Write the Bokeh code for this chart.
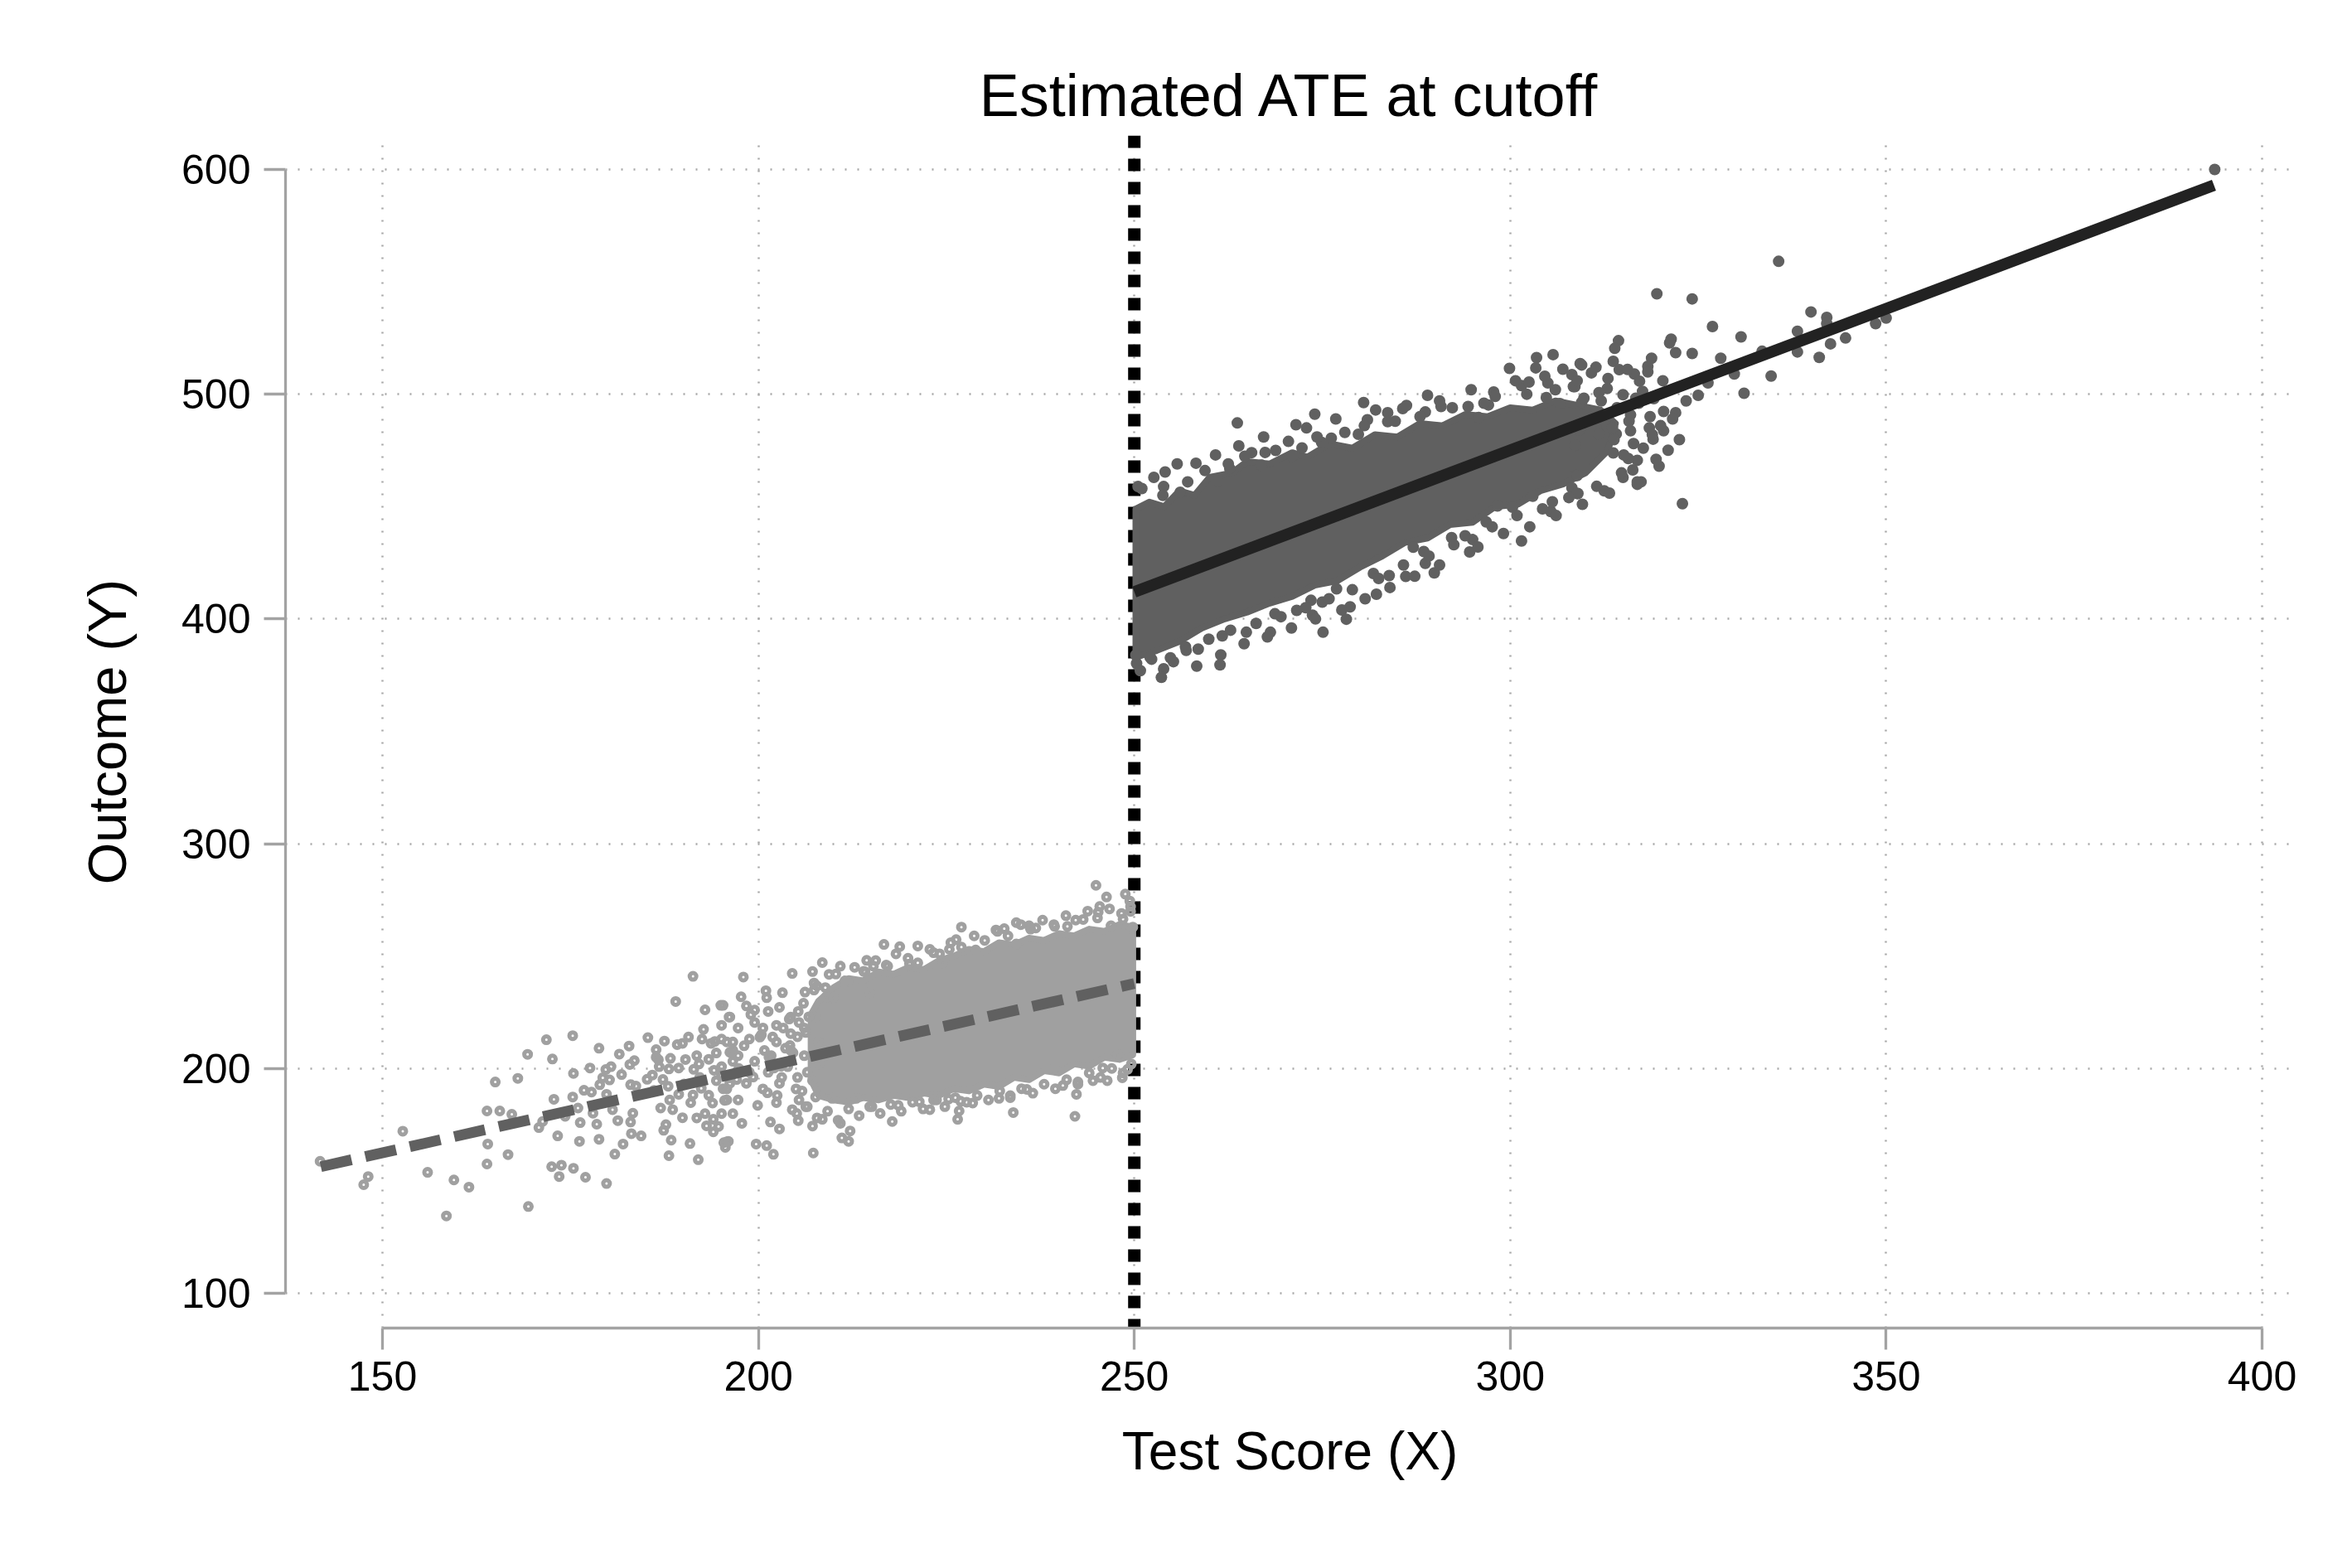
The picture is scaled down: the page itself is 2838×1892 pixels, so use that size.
from bokeh.plotting import figure
from bokeh.models import FixedTicker, Span
from bokeh.embed import file_html
from bokeh.resources import INLINE

TITLE = "Estimated ATE at cutoff"
X_LABEL = "Test Score (X)"
Y_LABEL = "Outcome (Y)"
X_TICKS = [150, 200, 250, 300, 350, 400]
Y_TICKS = [100, 200, 300, 400, 500, 600]
CUTOFF = 250

lower_x = [141.7, 147.5, 148.1, 152.7, 156.0, 158.5, 159.5, 161.5, 163.9, 163.9, 164.0, 165.0, 165.6, 166.7, 167.2,
           168.0, 169.3, 169.4, 170.8, 171.3, 171.8, 172.5, 172.6, 172.8, 173.3, 173.5, 173.8, 174.3, 175.3, 175.3,
           175.4, 175.4, 176.0, 176.2, 176.3, 176.8, 177.0, 177.6, 177.8, 178.0, 178.5, 178.8, 178.8, 178.9, 179.3,
           179.7, 179.8, 179.8, 180.2, 180.4, 180.6, 180.9, 181.3, 181.5, 181.8, 182.0, 182.8, 182.9, 183.0, 183.0,
           183.3, 183.5, 183.7, 184.4, 183.1, 185.2, 185.3, 185.9, 186.4, 186.7, 186.8, 187.0, 187.4, 187.5, 187.7,
           188.1, 188.1, 188.3, 188.4, 188.6, 189.0, 189.2, 189.4, 189.9, 189.9, 190.7, 190.9, 191.0, 191.3, 191.8,
           191.8, 192.0, 192.5, 192.7, 192.9, 192.9, 193.1, 193.4, 193.7, 193.9, 194.0, 194.0, 194.7, 195.0, 195.1,
           195.5, 195.6, 195.8, 196.1, 196.6, 192.1, 194.4, 195.1, 196.2, 191.4, 195.8, 194.4, 196.6,
           198.0, 197.7, 195.3, 198.4, 199.5, 201.0, 201.1, 203.2, 204.5, 201.3, 202.8, 204.3, 205.3, 207.2, 207.8,
           207.4, 208.5, 209.4, 210.9, 209.0, 210.0, 211.9, 214.0, 214.4, 215.3, 214.8, 216.7, 217.2, 218.8, 221.2,
           220.1, 223.3, 224.5, 225.4, 226.3, 227.0, 228.9, 231.6, 232.7, 234.3, 234.3, 236.0, 236.9, 239.4, 241.1,
           243.2, 244.9, 245.2, 245.4, 246.3, 246.9, 248.8, 249.4, 249.5, 248.5, 249.8,
           195.1, 196.6, 195.8, 195.1, 195.4, 196.0, 197.8, 199.7, 201.1, 202.0, 201.6, 202.8, 204.5, 205.3, 206.3,
           207.2, 207.3, 208.5, 209.8, 210.9, 211.1, 212.0, 212.2, 213.0, 215.1, 217.8, 218.6, 221.4, 222.8, 223.7,
           225.3, 226.5, 226.7, 226.9, 228.5, 232.0, 233.5, 233.9, 235.7, 239.4, 240.5, 242.1, 242.3, 242.5, 244.5,
           245.8, 246.4, 247.8, 248.4, 249.1,
           196.2, 197.3, 198.8, 200.6, 202.4, 204.3, 206.1, 207.6, 197.3, 199.5, 201.7, 203.9, 206.1, 208.0, 196.2,
           198.4, 200.6, 202.8, 205.0, 207.2, 197.3, 199.9, 202.4, 205.4, 207.6, 198.8, 201.3, 204.3, 195.1, 195.8,
           206.5, 208.1, 196.6, 199.5, 202.4, 205.4,
           206.2, 207.4, 208.9, 210.3, 211.5, 212.8, 214.2, 215.6, 217.0, 218.3, 219.9, 221.2, 222.8, 224.1, 225.6,
           227.0, 228.7, 230.1, 231.8, 233.2, 234.9, 236.2, 237.8, 239.3, 240.9, 242.2, 243.8, 245.1, 246.7, 248.3,
           249.5,
           205.1, 206.5, 207.8, 209.2, 210.6, 212.0, 213.4, 214.8, 216.2, 217.6, 219.0, 220.5, 221.9, 223.3, 224.8,
           226.2, 227.7, 229.1, 230.6, 232.1, 233.5, 235.0, 236.5, 238.0, 239.5, 241.0, 242.5, 244.0, 245.5, 247.0,
           248.5, 249.6,
           186.1, 187.3, 188.2, 189.4, 190.1, 191.3, 192.2, 193.4, 194.1, 195.3, 196.2, 197.4, 198.1, 199.3, 200.2,
           201.4, 202.1, 203.3, 204.2, 186.4, 188.0, 190.3, 192.4, 194.2, 197.1, 199.0, 201.2, 203.1, 205.2, 206.0,
           200.8, 201.9, 203.0, 204.1, 205.2, 206.3, 202.5, 204.6, 206.7, 200.4, 203.6, 205.8]
lower_y = [158.7, 148.3, 151.9, 172.1, 153.8, 134.4, 150.4, 147.2, 181.1, 157.5, 166.4, 194.0, 181.1, 161.7, 179.6,
           195.6, 206.3, 138.6, 173.7, 176.4, 212.8, 156.3, 204.2, 186.3, 170.0, 151.9, 157.0, 178.7, 214.6, 187.3,
           197.8, 155.6, 182.4, 167.6, 175.9, 190.3, 151.6, 200.2, 189.5, 180.1, 175.2, 209.0, 168.5, 192.8, 195.9,
           199.5, 148.8, 188.5, 194.9, 200.8, 181.7, 161.9, 176.8, 206.4, 197.3, 166.4, 210.0, 201.8, 192.8, 176.2,
           180.1, 203.5, 192.2, 170.0, 171.0, 195.2, 213.7, 197.1, 208.4, 203.9, 200.8, 182.4, 172.5, 212.2, 175.0,
           199.8, 161.2, 204.5, 168.1, 181.7, 229.8, 210.6, 188.5, 178.1, 211.2, 214.0, 166.6, 184.8, 241.0, 205.7,
           178.0, 159.4, 213.1, 217.4, 226.1, 179.9, 174.5, 188.1, 211.2, 184.6, 177.4, 171.8, 174.2, 228.1, 219.2,
           185.8, 164.9, 167.4, 222.9, 179.9, 202.0, 206.9, 197.1, 193.4, 199.6, 211.8, 194.6, 203.2,
           240.7, 231.9, 228.1, 227.8, 226.0, 234.6, 231.5, 233.7, 242.3, 225.4, 227.2, 222.9, 225.4, 243.1, 236.7,
           234.9, 247.1, 241.9, 245.5, 231.7, 231.5, 238.6, 243.2, 248.1, 245.5, 233.7, 255.2, 245.5, 254.2, 254.5,
           246.5, 251.5, 246.9, 253.0, 257.3, 262.9, 252.7, 261.6, 262.2, 264.9, 255.4, 263.5, 262.5, 263.2, 263.2,
           266.3, 281.5, 269.6, 272.1, 276.3, 263.5, 277.6, 274.5, 269.9, 266.5, 262.9,
           213.1, 208.1, 186.0, 179.9, 167.0, 167.6, 175.6, 166.4, 165.7, 161.8, 176.2, 173.1, 181.7, 176.8, 183.0,
           174.4, 162.4, 177.4, 186.7, 175.6, 169.1, 167.6, 172.2, 186.7, 183.0, 176.4, 183.6, 185.2, 181.7, 186.0,
           186.4, 177.4, 181.1, 185.4, 184.6, 186.7, 187.9, 180.4, 190.7, 200.2, 192.4, 178.7, 188.5, 194.0, 194.6,
           200.2, 194.6, 206.1, 195.9, 199.6,
           222.9, 218.0, 213.1, 218.0, 211.8, 215.5, 218.0, 222.9, 205.7, 203.2, 205.7, 200.8, 205.7, 211.8, 195.9,
           193.4, 190.9, 193.4, 190.9, 194.6, 186.0, 183.6, 184.8, 186.0, 187.3, 198.3, 198.3, 208.1, 200.8, 190.9,
           198.3, 202.0, 211.8, 220.5, 219.2, 220.5,
           234.0, 238.0, 236.0, 242.0, 239.0, 245.0, 243.0, 248.0, 246.0, 251.0, 249.0, 247.0, 253.0, 251.0, 256.0,
           254.0, 259.0, 257.0, 261.0, 259.0, 264.0, 262.0, 266.0, 264.0, 268.0, 266.0, 270.0, 267.0, 271.0, 269.0,
           272.0,
           180.0, 183.0, 178.0, 181.0, 177.0, 182.0, 179.0, 183.0, 180.0, 184.0, 181.0, 185.0, 182.0, 186.0, 183.0,
           187.0, 185.0, 188.0, 186.0, 190.0, 187.0, 191.0, 189.0, 193.0, 191.0, 195.0, 193.0, 198.0, 196.0, 200.0,
           198.0, 202.0,
           190.2, 195.1, 186.0, 200.2, 193.1, 188.2, 196.0, 204.1, 199.2, 191.0, 207.2, 200.0, 210.1, 196.2, 214.0,
           205.1, 200.2, 218.0, 210.2, 205.0, 192.1, 204.0, 191.2, 212.0, 195.1, 224.0, 189.2, 196.0, 214.1, 229.0,
           208.0, 214.0, 201.0, 222.0, 196.0, 216.0, 188.0, 207.0, 223.0, 215.0, 209.0, 190.0]

upper_x = [263.7, 274.0, 271.5, 280.5, 289.0, 285.7, 283.7, 288.7, 290.8, 294.4, 297.8, 299.9, 303.5, 305.7, 303.4,
           301.5, 302.5, 307.0, 308.2, 309.3, 305.0, 304.8, 308.4, 306.6, 309.5, 297.1, 295.8, 258.2, 254.1, 253.9,
           250.5, 256.1, 261.1, 262.7, 264.7, 267.4, 266.9, 271.0, 272.3, 274.9, 276.2, 279.8, 281.0, 283.7,
           301.5, 294.6, 295.0, 289.9, 288.7, 288.5, 286.1, 287.1, 283.9, 282.2, 281.8, 278.7, 278.2, 276.9, 275.1,
           275.0, 273.5, 273.7, 271.6, 268.7, 268.1, 264.9, 261.7, 261.4, 258.5, 256.8, 254.8, 253.9, 252.3, 250.3,
           250.2, 298.3, 300.3, 305.4, 305.6, 308.2, 309.0, 308.7, 303.0, 296.8, 292.2,
           393.7, 335.7, 319.5, 324.2, 340.0, 342.1, 342.1, 338.2, 330.7, 326.9, 350.0, 348.6, 344.6, 342.6, 341.1,
           338.2, 333.5, 334.7, 329.8, 328.0, 331.1, 326.3, 325.0, 323.4, 322.0, 322.5, 321.0, 320.4, 319.0, 318.5,
           316.9, 316.3, 316.9, 315.7, 322.9, 312.5, 308.9, 308.9, 313.7, 316.0, 314.4, 313.9, 313.7, 314.5, 309.5,
           310.8, 316.5, 318.3, 318.3, 317.2, 321.4, 321.2, 322.0, 324.2, 315.0, 312.9, 311.8, 309.8, 308.6, 312.1,
           312.9, 311.8, 314.1, 316.0, 320.4, 317.6, 316.7, 308.6, 309.2, 313.8,
           251.0, 252.6, 253.8, 255.7, 257.1, 259.4, 260.8, 262.5, 263.9, 265.6, 267.2, 268.8, 270.5, 272.9, 274.3,
           276.8, 278.0, 280.6, 282.1, 284.7, 286.2, 288.0, 290.6, 292.3, 294.8, 296.5, 298.0, 300.7, 302.2, 304.6,
           306.0, 308.9, 311.4, 313.0, 315.6, 318.8, 320.3,
           250.8, 252.1, 253.6, 255.2, 256.9, 258.3, 259.9, 261.5, 262.8, 264.6, 266.2, 267.7, 269.5, 270.9, 272.8,
           274.1, 275.9, 277.6, 279.0, 280.7, 282.5, 284.0, 285.8, 287.3, 289.2, 290.6, 292.5, 294.0, 295.7, 297.6,
           299.1, 300.9, 302.6, 304.3, 306.1, 307.8, 309.6, 311.5, 313.2, 315.0, 317.4, 319.8,
           314.2, 315.8, 317.1, 318.6, 320.0, 316.4, 318.9, 313.6, 315.1, 317.7, 319.4, 321.6, 314.8, 316.9, 319.1]
upper_y = [487.2, 491.1, 486.4, 496.3, 499.5, 493.6, 491.8, 492.1, 494.5, 494.5, 501.0, 511.5, 516.3, 517.6, 511.7,
           503.8, 505.4, 511.1, 508.7, 513.6, 505.0, 498.5, 503.4, 495.8, 496.4, 495.2, 489.6, 469.3, 465.4, 458.9,
           458.9, 456.4, 461.6, 466.9, 472.4, 474.1, 468.4, 472.4, 476.1, 478.6, 480.4, 482.2, 488.6, 487.8,
           434.7, 429.8, 435.3, 420.5, 424.7, 430.0, 418.9, 431.9, 419.3, 411.0, 420.2, 405.4, 399.9, 413.4, 394.1,
           407.5, 408.3, 401.7, 403.8, 402.3, 394.1, 394.1, 392.5, 379.6, 386.6, 387.6, 382.7, 377.8, 382.1, 380.2,
           383.9, 450.3, 449.7, 447.8, 452.1, 458.3, 455.8, 463.8, 454.6, 443.2, 436.2,
           600.0, 559.1, 544.7, 542.4, 536.6, 534.2, 531.4, 528.0, 525.5, 530.1, 533.9, 531.4, 525.0, 522.4, 516.4,
           518.8, 519.1, 508.1, 509.0, 516.0, 500.4, 505.0, 499.5, 497.0, 491.8, 479.8, 475.1, 483.7, 480.0, 485.0,
           459.9, 466.3, 470.6, 471.4, 451.3, 457.0, 455.8, 463.8, 473.9, 483.7, 523.8, 520.4, 514.6, 510.9, 513.0,
           509.5, 509.0, 512.4, 509.9, 505.8, 524.5, 522.8, 518.5, 518.1, 499.8, 502.5, 500.7, 498.2, 503.4, 497.0,
           485.9, 482.3, 482.3, 490.8, 492.3, 501.3, 498.2, 477.3, 484.1, 479.8,
           458.0, 463.0, 455.0, 469.0, 461.0, 466.0, 473.0, 469.0, 477.0, 474.0, 481.0, 475.0, 479.0, 485.0, 481.0,
           489.0, 483.0, 486.0, 493.0, 488.0, 495.0, 490.0, 497.0, 494.0, 502.0, 496.0, 499.0, 506.0, 500.0, 508.0,
           502.0, 506.0, 512.0, 507.0, 511.0, 516.0, 506.0,
           377.0, 383.0, 374.0, 381.0, 386.0, 379.0, 391.0, 384.0, 395.0, 389.0, 398.0, 392.0, 401.0, 396.0, 405.0,
           400.0, 409.0, 404.0, 413.0, 409.0, 418.0, 414.0, 424.0, 419.0, 428.0, 424.0, 433.0, 437.0, 432.0, 441.0,
           438.0, 446.0, 441.0, 449.0, 446.0, 454.0, 451.0, 459.0, 456.0, 463.0, 461.0, 468.0,
           494.0, 488.0, 496.0, 490.0, 486.0, 478.0, 482.0, 485.0, 473.0, 476.0, 471.0, 489.0, 465.0, 461.0, 498.0]

# Outline of the near-solid core of each cloud, where the markers fully overlap
lower_core_x = [207.0, 208.0, 210.0, 212.0, 214.0, 216.0, 218.0, 220.0, 222.0, 224.0, 226.0, 228.0, 230.0, 232.0,
                234.0, 236.0, 238.0, 240.0, 242.0, 244.0, 246.0, 248.0, 249.8,
                249.8, 248.0, 246.0, 244.0, 242.0, 240.0, 238.0, 236.0, 234.0, 232.0, 230.0, 228.0, 226.0, 224.0,
                222.0, 220.0, 218.0, 216.0, 214.0, 212.0, 210.0, 208.0, 207.0]
lower_core_y = [224.0, 230.0, 236.0, 240.0, 239.0, 243.0, 242.0, 245.0, 244.0, 248.0, 250.0, 253.0, 252.0, 256.0,
                255.0, 258.0, 257.0, 260.0, 259.0, 262.0, 261.0, 264.0, 263.0,
                206.0, 204.0, 205.0, 201.0, 202.0, 198.0, 199.0, 195.0, 196.0, 192.0, 193.0, 190.0, 191.0, 188.0,
                189.0, 187.0, 188.0, 186.0, 187.0, 185.0, 186.0, 188.0, 195.0]
upper_core_x = [250.2, 252.0, 254.0, 256.0, 258.0, 260.0, 263.0, 265.0, 268.0, 271.0, 273.0, 276.0, 279.0, 282.0,
                285.0, 288.0, 291.0, 294.0, 297.0, 300.0, 303.0, 306.0, 309.0, 312.0, 314.0,
                313.0, 310.0, 307.0, 304.0, 301.0, 298.0, 295.0, 292.0, 289.0, 286.0, 283.0, 280.0,
                277.0, 274.0, 271.0, 268.0, 265.0, 262.0, 259.0, 256.0, 253.0, 250.2]
upper_core_y = [449.0, 452.0, 450.0, 457.0, 455.0, 463.0, 465.0, 470.0, 469.0, 474.0, 472.0, 478.0, 476.0, 482.0,
                481.0, 487.0, 486.0, 491.0, 490.0, 494.0, 493.0, 497.0, 495.0, 493.0, 487.0,
                475.0, 465.0, 460.0, 457.0, 451.0, 450.0, 443.0, 442.0, 436.0, 434.0, 428.0, 423.0,
                417.0, 415.0, 410.0, 407.0, 403.0, 400.0, 396.0, 390.0, 386.0, 383.0]

# Fitted lines on each side of the cutoff
fit_lo_x = [141.8, 250.0]
fit_lo_y = [156.3, 237.8]
fit_hi_x = [250.0, 393.6]
fit_hi_y = [412.0, 593.0]

FONT = "Liberation Sans"

p = figure(width=2820, height=1870, x_range=(137.1, 404.3), y_range=(84.5, 615.1),
           output_backend="svg", toolbar_location=None,
           min_border_left=344, min_border_right=52, min_border_top=163, min_border_bottom=268)
p.background_fill_color = "white"
p.border_fill_color = "white"
p.outline_line_color = None

p.title.text = TITLE
p.title.align = "center"
p.title.text_font = FONT
p.title.text_font_size = "72px"
p.title.text_font_style = "normal"
p.title.text_color = "black"
p.title.standoff = 17

p.xaxis.ticker = FixedTicker(ticks=X_TICKS)
p.yaxis.ticker = FixedTicker(ticks=Y_TICKS)
p.xaxis.bounds = (X_TICKS[0], X_TICKS[-1])
p.yaxis.bounds = (Y_TICKS[0], Y_TICKS[-1])
p.xaxis.axis_label = X_LABEL
p.yaxis.axis_label = Y_LABEL
for ax in (p.xaxis, p.yaxis):
    ax.axis_line_color = "#a3a3a3"
    ax.axis_line_width = 3.3
    ax.major_tick_line_color = "#a3a3a3"
    ax.major_tick_line_width = 3.3
    ax.major_tick_out = 26
    ax.major_tick_in = 0
    ax.minor_tick_line_color = None
    ax.major_label_text_font = FONT
    ax.major_label_text_font_size = "50px"
    ax.major_label_text_color = "black"
    ax.axis_label_text_font = FONT
    ax.axis_label_text_font_style = "normal"
    ax.axis_label_text_color = "black"
p.xaxis.major_label_standoff = 14
p.yaxis.major_label_standoff = 16
p.xaxis.axis_label_text_font_size = "64px"
p.yaxis.axis_label_text_font_size = "65px"
p.xaxis.axis_label_standoff = 34
p.yaxis.axis_label_standoff = 50

p.grid.grid_line_color = "#a8a8a8"
p.grid.grid_line_width = 2.5
p.grid.grid_line_dash = "2 13"

cut = Span(location=CUTOFF, dimension="height", line_color="black", line_width=15,
           line_dash="15 13", level="underlay")
p.add_layout(cut)

p.patch(lower_core_x, lower_core_y, fill_color="#a0a0a0", line_color="#a0a0a0", line_width=8,
        line_join="round")
p.patch(upper_core_x, upper_core_y, fill_color="#606060", line_color="#606060", line_width=8,
        line_join="round")
p.scatter(lower_x, lower_y, marker="circle", size=8, fill_color=None,
          line_color="#a0a0a0", line_width=5)
p.scatter(upper_x, upper_y, marker="circle", size=14, fill_color="#606060", line_color=None)
p.line(fit_lo_x, fit_lo_y, line_color="#606060", line_width=13, line_dash="38 17")
p.line(fit_hi_x, fit_hi_y, line_color="#222222", line_width=14)

open("out.html", "w").write(file_html(p, INLINE))
